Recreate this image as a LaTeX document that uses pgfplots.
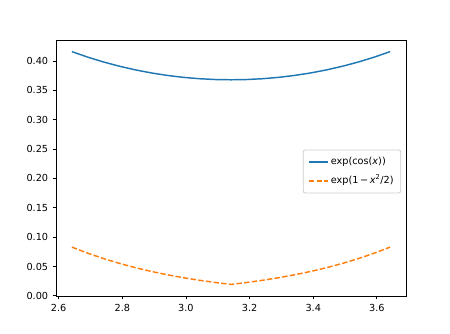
\documentclass[border=0pt]{standalone}
\usepackage{pgfplots}
\pgfplotsset{compat=1.18}
\usepackage{fontspec}
\setmainfont{DejaVu Sans}
\definecolor{mplblue}{HTML}{1F77B4}
\definecolor{mplorange}{HTML}{FF7F0E}
\begin{document}
\fontsize{9.7}{11.5}\selectfont
\begin{tikzpicture}[x=1pt,y=1pt]
\begin{axis}[
  name=ax,
  at={(0,0)}, anchor=south west,
  scale only axis, width=350pt, height=256pt,
  xmin=2.5916, xmax=3.6916, ymin=-0.0002, ymax=0.4356,
  xtick={2.6,2.8,3.0,3.2,3.4,3.6},
  ytick={0,0.05,0.1,0.15,0.2,0.25,0.3,0.35,0.4},
  xticklabel style={/pgf/number format/.cd,fixed,fixed zerofill,precision=1},
  yticklabel style={/pgf/number format/.cd,fixed,fixed zerofill,precision=2},
  /pgf/number format/assume math mode=true,
  tick align=outside, tick pos=left,
  major tick length=3.4pt,
  every tick/.style={black, line width=0.78pt},
  axis line style={line width=0.78pt},
  ticklabel style={font=\fontsize{9.7}{11.5}\selectfont},
  xticklabel shift=1pt, yticklabel shift=1pt,
  legend style={at={(rel axis cs:0.986,0.572)}, anchor=north east,
    draw=black!20, rounded corners=2pt, line width=0.8pt,
    font=\fontsize{9.7}{11.5}\selectfont, inner xsep=5pt, inner ysep=5pt,
    row sep=4pt, nodes={inner ysep=2pt, text height=8pt, text depth=2.5pt}},
  legend cell align=left,
  legend image code/.code={\draw[#1, line width=1.6pt] (0pt,0pt) -- (19pt,0pt);},
]
\addplot[mplblue, line width=1.46pt] coordinates {
(2.641593,0.415786) (2.691593,0.406387) (2.741593,0.398095) (2.791593,0.390872)
(2.841593,0.384683) (2.891593,0.379495) (2.941593,0.375286) (2.991593,0.372033)
(3.041593,0.369722) (3.091593,0.368339) (3.141593,0.367879) (3.191593,0.368339)
(3.241593,0.369722) (3.291593,0.372033) (3.341593,0.375286) (3.391593,0.379495)
(3.441593,0.384683) (3.491593,0.390872) (3.541593,0.398095) (3.591593,0.406387)
(3.641593,0.415786)};
\addlegendentry{exp(cos(\textit{x}))}
\addplot[mplorange, line width=1.46pt, dash pattern=on 5.4pt off 2.3pt] coordinates {
(2.641593,0.082993) (2.691593,0.072633) (2.741593,0.063408) (2.791593,0.055215)
(2.841593,0.047962) (2.891593,0.041560) (2.941593,0.035920) (2.991593,0.030967)
(3.041593,0.026632) (3.091593,0.022846) (3.141593,0.019550) (3.191593,0.022846)
(3.241593,0.026632) (3.291593,0.030967) (3.341593,0.035920) (3.391593,0.041560)
(3.441593,0.047962) (3.491593,0.055215) (3.541593,0.063408) (3.591593,0.072633)
(3.641593,0.082993)};
\addlegendentry{exp(1\,−\,\textit{x}\textsuperscript{2}/2)}
\end{axis}
\useasboundingbox (-56,-37) rectangle (394,296);
\end{tikzpicture}
\end{document}
